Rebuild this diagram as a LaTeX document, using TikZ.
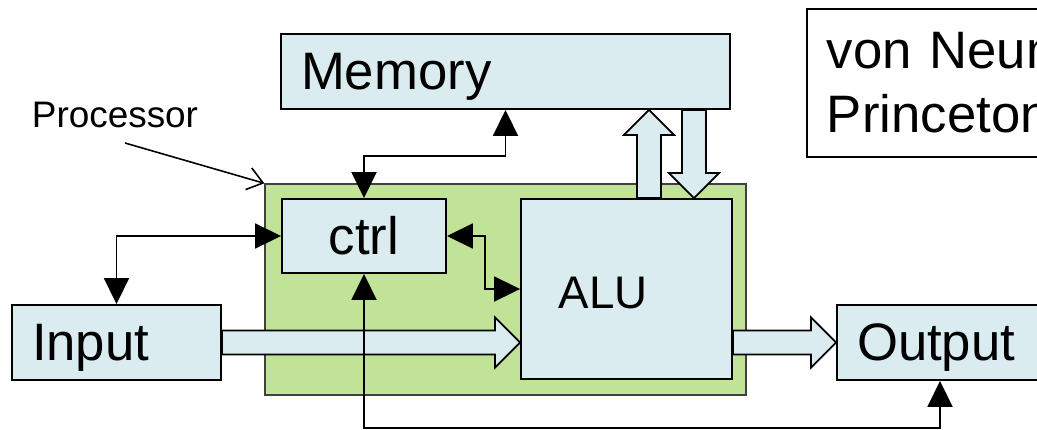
\documentclass[tikz,border=0pt]{standalone}
\usepackage{fontspec}
\setmainfont{Liberation Sans}
\usetikzlibrary{calc,arrows.meta}

\definecolor{boxblue}{HTML}{DAECEF}
\definecolor{procgreen}{HTML}{C0E398}

% wide block arrow from #1 to #2
\newcommand{\fatarrow}[2]{%
  \coordinate (hb) at ($(#2)!0.5cm!(#1)$);
  \draw[fat] ($(#1)!0.24cm!90:(#2)$) -- ($(hb)!0.24cm!90:(#2)$) -- ($(hb)!0.5cm!90:(#2)$) -- (#2)
    -- ($(hb)!0.5cm!-90:(#2)$) -- ($(hb)!0.24cm!-90:(#2)$) -- ($(#1)!0.24cm!-90:(#2)$) -- cycle;}

\begin{document}
\begin{tikzpicture}[x=0.02cm, y=-0.02cm, font=\fontsize{30}{36.4}\selectfont,
    box/.style={draw, fill=boxblue, line width=1.1pt, inner sep=0pt},
    fat/.style={draw, fill=boxblue, line width=1pt, line join=miter},
    link/.style={{Triangle[length=0.52cm,width=0.5cm]}-{Triangle[length=0.52cm,width=0.5cm]}, line width=1.1pt},
    pointer/.style={-{Straight Barb[length=0.3cm,width=0.45cm]}, line width=0.9pt}]
  \useasboundingbox (0,0) rectangle (1037,429);
  \clip (0,0) rectangle (1037,429);

  \node[draw=black!75, fill=procgreen, line width=0.8pt, minimum width=9.62cm, minimum height=4.22cm] (proc) at (505.5,289.5) {};
  \node[font=\fontsize{21}{25}\selectfont] (proclabel) at (115,115) {Processor};
  \coordinate (ptail) at (125,143);
  \draw[pointer] (ptail) -- (proc.north west);

  \node[box, minimum width=8.98cm, minimum height=1.5cm, inner xsep=0.4cm, text width=8.18cm, text depth=0pt, align=left] (memory) at (505.5,71.5) {Memory};
  \node[box, fill=white, minimum height=2.96cm, inner xsep=0.4cm, text width=7.2cm, align=left, anchor=north west] (neumann) at (806,8) {von Neumann\\Princeton};
  \node[box, minimum width=3.28cm, minimum height=1.48cm] (ctrl) at (364,236) {ctrl};
  \node[box, minimum width=4.22cm, minimum height=3.6cm,
    label={[xshift=-0.47cm, yshift=-0.08cm, font=\fontsize{26}{30}\selectfont]center:ALU}] (alu) at (626.5,289) {};
  \node[box, minimum width=4.18cm, minimum height=1.5cm, inner xsep=0.4cm, text width=3.38cm, text depth=0pt, align=left] (input) at (116.5,342.5) {Input};
  \node[box, minimum width=4.12cm, minimum height=1.5cm, inner xsep=0.4cm, text width=3.32cm, text depth=0pt, align=left] (output) at (940,342.5) {Output};

  % data paths
  \coordinate (aluup) at ([xshift=0.45cm]alu.north);
  \coordinate (aludown) at ([xshift=1.35cm]alu.north);
  \fatarrow{input.east}{input.east -| alu.west}
  \fatarrow{output.west -| alu.east}{output.west}
  \fatarrow{aluup}{aluup |- memory.south}
  \fatarrow{aludown |- memory.south}{aludown}

  % control paths
  \draw[link] (memory.south) -- ++(0,46) -| (ctrl.north);
  \draw[link] (input.north) |- (ctrl.west);
  \draw[link] (ctrl.east) -- ++(38,0) |- (alu.west);
  \draw[link] (ctrl.south) -- ++(0,154) -| (output.south);
\end{tikzpicture}
\end{document}
